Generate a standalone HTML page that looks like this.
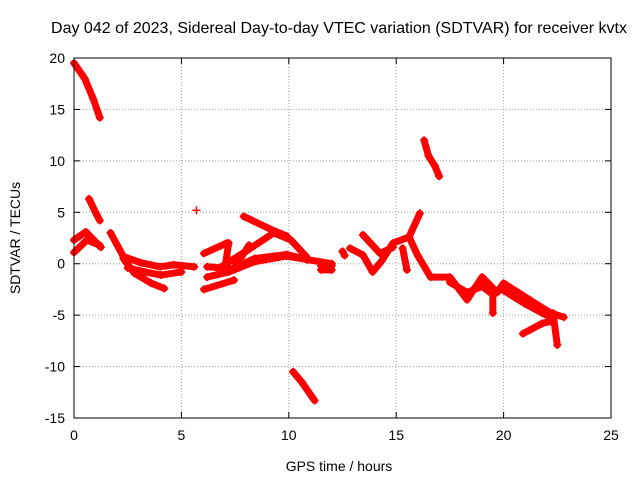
<!DOCTYPE html>
<html><head><meta charset="utf-8"><style>
body{margin:0;background:#fff;}
svg{display:block;font-family:"Liberation Sans",sans-serif;}
</style></head><body>
<svg id="chart" width="640" height="480">
<rect width="640" height="480" fill="#fff"/>
<text x="339" y="33" font-size="16" text-anchor="middle">Day 042 of 2023, Sidereal Day-to-day VTEC variation (SDTVAR) for receiver kvtx</text>
<text x="339" y="471" font-size="14" text-anchor="middle">GPS time / hours</text>
<text transform="translate(20,238) rotate(-90)" font-size="14" text-anchor="middle">SDTVAR / TECUs</text>
<g id="grid"></g><g id="marks"></g><g id="axes"></g>
</svg>
<script>
const xTicks=[0,5,10,15,20,25];
const yTicks=[-15,-10,-5,0,5,10,15,20];
const trk1=[[0,19.5],[0.5,18],[0.9,16],[1.2,14.2]];
const trk2=[[0.7,6.3],[1.0,5],[1.2,4.2]];
const trk3=[[0,2.3],[0.55,3.1],[1.25,1.6]];
const trk4=[[0,1.1],[0.6,2.3],[1.2,1.8]];
const trk5=[[1.7,3.0],[2.3,0.7],[3.1,0.1],[4.0,-0.3],[4.65,-0.1],[5.6,-0.3]];
const trk6=[[2.3,0.5],[2.8,-0.9],[3.6,-1.9],[4.2,-2.4]];
const trk6b=[[2.5,-0.4],[3.3,-0.8],[4.05,-1.1],[5,-0.8]];
const trk7=[[5.7,5.2]];
const trk8=[[6.2,-1.3],[7.2,-0.8],[8.4,0.2],[9.9,0.75],[10.85,0.4],[12,0.0]];
const trk8b=[[6.2,-0.3],[7.4,-0.5],[8.4,0.5],[9.9,0.9],[10.85,0.4]];
const trk9=[[6.05,1.0],[7.1,2.0]];
const trk9b=[[6.05,-2.5],[7.45,-1.6]];
const trk10=[[6.85,-0.3],[8.0,1.2],[9.3,3.0],[10.1,2.3],[10.85,0.6]];
const trk11=[[7.9,4.6],[9.2,3.3],[9.9,2.7]];
const trk12=[[7.0,-0.8],[7.2,2.0]];
const trk12b=[[7.4,-0.6],[8.15,1.8]];
const trk13=[[10.2,-10.5],[10.6,-11.5],[11.2,-13.3]];
const trk14=[[11.5,-0.2],[12.0,-0.2]];
const trk14b=[[11.5,-0.6],[12.0,-0.6]];
const trk15=[[12.5,1.2],[12.6,0.8]];
const trk16=[[12.85,1.5],[13.45,0.85],[13.9,-0.8],[14.3,0.2],[14.85,2.0],[15.6,2.6],[16.1,4.9]];
const trk17=[[13.45,2.8],[14.25,1.0],[14.85,1.6]];
const trk17b=[[15.3,1.5],[15.5,-0.6]];
const trk18=[[16.3,12],[16.5,10.5],[16.8,9.5],[17,8.5]];
const trk19=[[15.6,2.6],[16.0,0.8],[16.6,-1.3],[17.5,-1.3],[18.3,-3.5],[19.0,-1.3],[19.7,-2.8],[20.0,-1.9],[21.2,-3.5],[22.2,-4.8],[22.8,-5.2]];
const trk20=[[17.5,-1.8],[18.3,-2.8],[19.0,-2.2],[19.5,-3.0],[19.5,-4.8]];
const trk21=[[20.0,-2.6],[21.0,-3.9],[21.8,-4.8],[22.3,-5.3]];
const trk22=[[20.9,-6.8],[21.8,-5.8],[22.2,-5.6]];
const trk23=[[22.5,-7.9],[22.3,-4.8]];
const tracks=[trk1,trk2,trk3,trk4,trk5,trk6,trk6b,trk7,trk8,trk8b,trk9,trk9b,trk10,trk11,trk12,trk12b,trk13,trk14,trk14b,trk15,trk16,trk17,trk17b,trk18,trk19,trk20,trk21,trk22,trk23];

const L=74,R=611,T=58,B=418;
const xs=v=>L+(v-0)/25*(R-L);
const ys=v=>B-(v+15)/35*(B-T);
const NS="http://www.w3.org/2000/svg";
function mk(t,a,p){const e=document.createElementNS(NS,t);for(const k in a)e.setAttribute(k,a[k]);p.appendChild(e);return e;}
const grid=document.getElementById('grid'),axes=document.getElementById('axes'),marks=document.getElementById('marks');
xTicks.forEach(v=>{const x=xs(v);
 if(v>0&&v<25){const g=mk('line',{x1:x,x2:x,y1:T,y2:B,stroke:'#a0a0a0','stroke-dasharray':'1,2'},grid);
 
 }
 mk('line',{x1:x,x2:x,y1:B,y2:B-6,stroke:'#000'},axes);
 mk('line',{x1:x,x2:x,y1:T,y2:T+6,stroke:'#000'},axes);
 const t=mk('text',{x:x,y:B+22,'font-size':14,'text-anchor':'middle'},axes);t.textContent=v;
 
 
});
yTicks.forEach(v=>{const y=ys(v);
 if(v>-15&&v<20){const g=mk('line',{x1:L,x2:R,y1:y,y2:y,stroke:'#a0a0a0','stroke-dasharray':'1,2'},grid);
 
 }
 mk('line',{x1:L,x2:L+6,y1:y,y2:y,stroke:'#000'},axes);
 mk('line',{x1:R,x2:R-6,y1:y,y2:y,stroke:'#000'},axes);
 const t=mk('text',{x:L-9,y:y+5,'font-size':14,'text-anchor':'end'},axes);t.textContent=v;
 
 
});
const fr=mk('rect',{x:L,y:T,width:R-L,height:B-T,fill:'none',stroke:'#000'},axes);


tracks.forEach(tr=>{
 const g=mk('g',{},marks);
 
 
 if(tr.length>1){mk('polyline',{points:tr.map(p=>xs(p[0])+','+ys(p[1])).join(' '),fill:'none',stroke:'#f00','stroke-width':7,'stroke-linejoin':'round','stroke-linecap':'round'},g);}
 tr.forEach(p=>{const x=xs(p[0]),y=ys(p[1]);
  mk('path',{d:`M${x-4},${y}H${x+4}M${x},${y-4}V${y+4}`,stroke:'#f00','stroke-width':1.5},g);});
});
</script>
</body></html>
